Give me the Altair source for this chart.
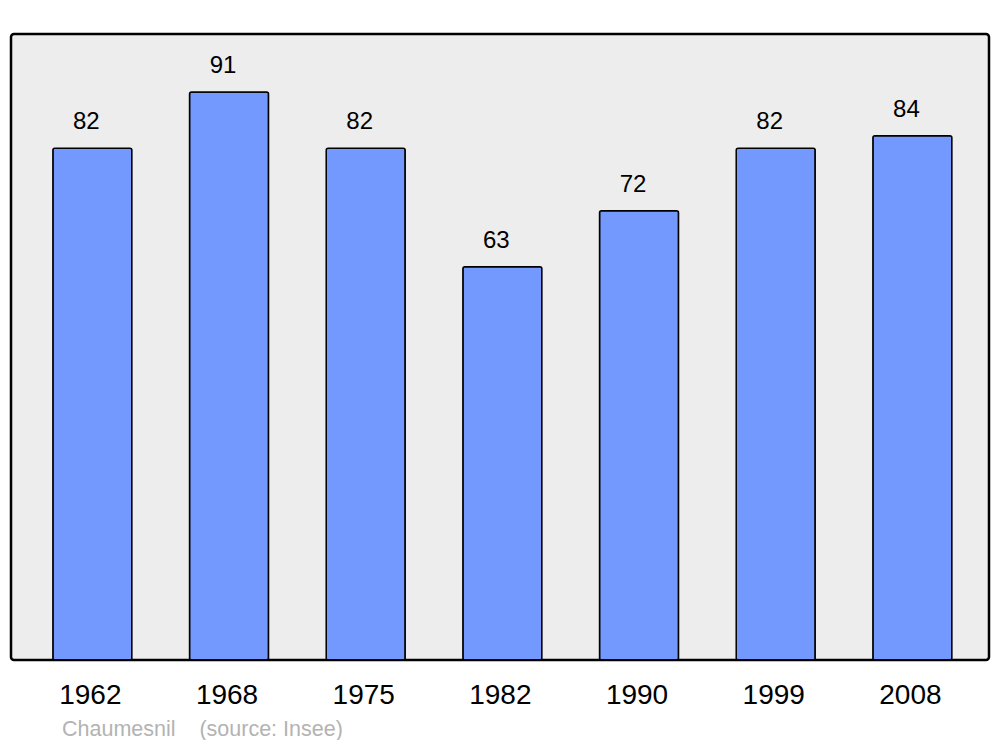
import altair as alt
import pandas as pd

years = ["1962", "1968", "1975", "1982", "1990", "1999", "2008"]
population = [82, 91, 82, 63, 72, 82, 84]
footer = "Chaumesnil\u00a0\u00a0\u00a0 (source: Insee)"

df = pd.DataFrame({"year": years, "pop": population})

FONT = "Liberation Sans"

x = alt.X(
    "year:N",
    sort=years,
    title=None,
    scale=alt.Scale(paddingInner=0.422, paddingOuter=0.289, align=0.53),
    axis=alt.Axis(
        labelAngle=0,
        labelFontSize=28,
        labelFont=FONT,
        labelColor="#000000",
        labelBaseline="alphabetic",
        labelPadding=43,
        labelOffset=-2,
        ticks=False,
        tickSize=0,
        domain=False,
        grid=False,
    ),
)
y = alt.Y(
    "pop:Q",
    title=None,
    scale=alt.Scale(domain=[0, 100.3], nice=False),
    axis=None,
)

bars = alt.Chart(df).mark_bar(
    color="#7399ff",
    stroke="#000000",
    strokeWidth=1.5,
    cornerRadius=2,
).encode(x=x, y=y)

labels = alt.Chart(df).mark_text(
    font=FONT,
    fontSize=24,
    color="#000000",
    baseline="alphabetic",
    dy=-19,
    dx=-6,
).encode(x=x, y=y, text="pop:Q")

chart = (
    alt.layer(bars, labels)
    .properties(
        width=978,
        height=626,
        autosize=alt.AutoSizeParams(type="none"),
        padding={"left": 3, "top": 26, "right": 3, "bottom": 80},
        title=alt.TitleParams(
            text=footer,
            orient="bottom",
            anchor="start",
            frame="group",
            font=FONT,
            fontSize=21.5,
            fontWeight="normal",
            color="#b3b3b3",
            dx=51,
            offset=10,
        ),
    )
    .configure(background="#ffffff")
    .configure_view(
        fill="#ededed",
        stroke="#000000",
        strokeWidth=2.5,
        cornerRadius=3,
    )
)

chart.save("out.html", embed_options={"renderer": "svg", "actions": False})
